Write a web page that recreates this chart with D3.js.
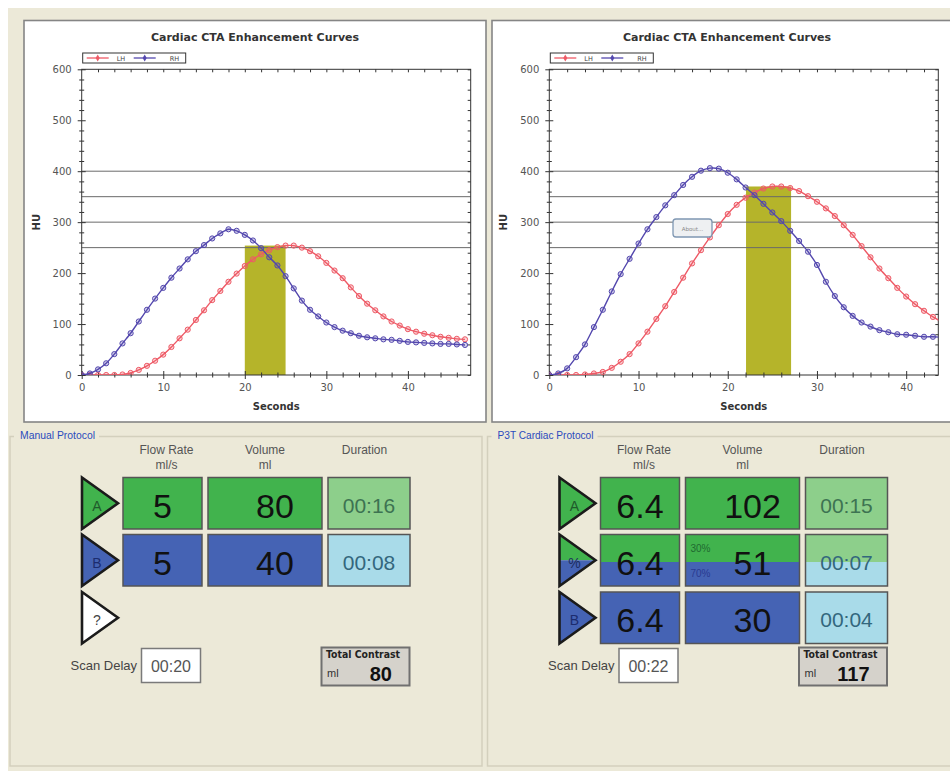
<!DOCTYPE html>
<html>
<head>
<meta charset="utf-8">
<script src="https://cdn.jsdelivr.net/npm/d3@7"></script>
<style>
  body { margin: 0; background: #fff; }
  svg { display: block; }
  text { font-family: "DejaVu Sans", Verdana, sans-serif; }
  .arial { font-family: "Liberation Sans", Arial, sans-serif; }
</style>
</head>
<body>
<div id="chart"></div>
<script>
// ---- chart values ----
const seconds = [0, 1, 2, 3, 4, 5, 6, 7, 8, 9, 10, 11, 12, 13, 14, 15, 16, 17, 18, 19, 20, 21, 22, 23,
  24, 25, 26, 27, 28, 29, 30, 31, 32, 33, 34, 35, 36, 37, 38, 39, 40, 41, 42, 43, 44, 45, 46, 47];

// manual protocol (left chart)
const manualLH = [0, 0, 0, 0, 0, 1, 4, 10, 18, 28, 40, 55, 72, 89, 108, 127, 147, 165, 183, 199, 214, 227, 237, 245,
  251, 254, 254, 250, 243, 233, 220, 205, 190, 172, 155, 140, 127, 115, 105, 97, 90, 85, 81, 78, 75, 73, 71, 70];
const manualRH = [0, 3, 11, 23, 41, 62, 82, 105, 128, 150, 171, 191, 209, 227, 243, 255, 268, 278, 286, 283, 275, 264, 249, 231,
  215, 194, 170, 146, 128, 115, 103, 94, 87, 82, 77, 74, 72, 70, 69, 67, 65, 64, 63, 62, 61, 61, 60, 59];

// P3T protocol (right chart)
const p3tLH = [0, 0, 0, 0, 1, 3, 6, 14, 26, 41, 62, 85, 110, 135, 163, 191, 219, 245, 270, 294, 316, 334, 348, 358,
  366, 370, 370, 367, 361, 351, 340, 327, 312, 294, 275, 253, 231, 209, 190, 171, 154, 139, 126, 114, 104];
const p3tRH = [0, 3, 13, 35, 60, 94, 128, 164, 198, 228, 258, 286, 310, 333, 353, 373, 389, 401, 406, 405, 397, 384, 368, 353,
  336, 319, 302, 283, 263, 242, 216, 183, 155, 133, 116, 103, 95, 88, 84, 80, 79, 77, 75, 75, 74];

const yTicks = [0, 100, 200, 300, 400, 500, 600];
const yMinor = [20, 40, 60, 80, 120, 140, 160, 180, 220, 240, 260, 280, 320, 340, 360, 380, 420, 440, 460, 480, 520, 540, 560, 580];
const xTicks = [0, 10, 20, 30, 40];
const xMinor = [2, 4, 6, 8, 12, 14, 16, 18, 22, 24, 26, 28, 32, 34, 36, 38, 42, 44, 46];
const thresholds = [250, 300, 350, 400];
const manualBand = [20, 25];
const p3tBand = [22.05, 27.1];

// ---- protocol panel values ----
const manualPhases = ["A", "B", "?"];
const manualFlow = ["5", "5"];
const manualVolume = ["80", "40"];
const manualDuration = ["00:16", "00:08"];
const manualScanDelay = "00:20";
const manualTotal = "80";

const p3tPhases = ["A", "%", "B"];
const p3tFlow = ["6.4", "6.4", "6.4"];
const p3tVolume = ["102", "51", "30"];
const p3tDuration = ["00:15", "00:07", "00:04"];
const p3tMix = ["30%", "70%"];
const p3tScanDelay = "00:22";
const p3tTotal = "117";

const RED = "#ee5a66";
const BLUE = "#5448ae";
const GREEN = "#41b34d";
const DKBLUE = "#4563b4";
const LTGREEN = "#8dcf8b";
const LTBLUE = "#a9dbe9";

const svg = d3.select("#chart").append("svg").attr("width", 950).attr("height", 771);

// window background
svg.append("rect").attr("x", 8).attr("y", 8).attr("width", 950).attr("height", 771).attr("fill", "#ece9d8");

function drawChart(opts) {
  const { panelX, panelW, plotLeft, xMax, lh, rh, band, about } = opts;
  const plotRight = plotLeft + 389;
  const top = 69.3, bottom = 375;

  // white panel
  svg.append("rect")
    .attr("x", panelX).attr("y", 20.5).attr("width", panelW).attr("height", 401.5)
    .attr("fill", "#fff").attr("stroke", "#858585").attr("stroke-width", 1.6);

  const g = svg.append("g");
  const clipId = "clip" + panelX;
  g.append("clipPath").attr("id", clipId).append("rect")
    .attr("x", plotLeft).attr("y", top).attr("width", plotRight - plotLeft).attr("height", bottom - top);

  const x = d3.scaleLinear().domain([0, xMax]).range([plotLeft, plotRight]);
  const y = d3.scaleLinear().domain([0, 600]).range([bottom, top]);

  // title
  g.append("text")
    .attr("x", panelX + panelW / 2).attr("y", 41)
    .attr("text-anchor", "middle").attr("font-size", 11).attr("font-weight", "bold").attr("fill", "#333")
    .text("Cardiac CTA Enhancement Curves");

  // band under the LH peak
  g.append("rect")
    .attr("clip-path", `url(#${clipId})`)
    .attr("x", x(band[0])).attr("width", x(band[1]) - x(band[0]))
    .attr("y", y(d3.max(lh))).attr("height", bottom - y(d3.max(lh)))
    .attr("fill", "#b5b42a");

  // threshold lines
  g.selectAll(".thr").data(thresholds).enter().append("line")
    .attr("x1", plotLeft).attr("x2", plotRight)
    .attr("y1", (d) => y(d)).attr("y2", (d) => y(d))
    .attr("stroke", "#6a6a6a").attr("stroke-width", 1);

  // frame
  g.append("rect")
    .attr("x", plotLeft).attr("y", top).attr("width", plotRight - plotLeft).attr("height", bottom - top)
    .attr("fill", "none").attr("stroke", "#333").attr("stroke-width", 1);

  // y axis: labels + ticks crossing the axis line
  g.append("g").attr("transform", `translate(${plotLeft},0)`)
    .call(d3.axisLeft(y).tickValues(yTicks).tickSize(4).tickPadding(6));
  g.append("g").attr("transform", `translate(${plotLeft},0)`)
    .call(d3.axisRight(y).tickValues(yTicks).tickSize(4).tickFormat(""));
  g.append("g").attr("transform", `translate(${plotLeft},0)`)
    .call(d3.axisLeft(y).tickValues(yMinor).tickSize(2.5).tickFormat(""));
  g.append("g").attr("transform", `translate(${plotLeft},0)`)
    .call(d3.axisRight(y).tickValues(yMinor).tickSize(2.5).tickFormat(""));
  // right edge ticks
  g.append("g").attr("transform", `translate(${plotRight},0)`)
    .call(d3.axisLeft(y).tickValues(yTicks.concat(yMinor)).tickSize(3).tickFormat(""));

  // x axis
  g.append("g").attr("transform", `translate(0,${bottom})`)
    .call(d3.axisBottom(x).tickValues(xTicks).tickSize(4).tickPadding(5));
  g.append("g").attr("transform", `translate(0,${bottom})`)
    .call(d3.axisTop(x).tickValues(xTicks).tickSize(4).tickFormat(""));
  g.append("g").attr("transform", `translate(0,${bottom})`)
    .call(d3.axisBottom(x).tickValues(xMinor.filter((d) => d < xMax)).tickSize(2.5).tickFormat(""));
  g.append("g").attr("transform", `translate(0,${bottom})`)
    .call(d3.axisTop(x).tickValues(xMinor.filter((d) => d < xMax)).tickSize(2.5).tickFormat(""));
  // top edge ticks
  g.append("g").attr("transform", `translate(0,${top})`)
    .call(d3.axisBottom(x).tickValues(xTicks.concat(xMinor).filter((d) => d > 0 && d < xMax)).tickSize(3).tickFormat(""));

  g.selectAll(".domain").remove();
  g.selectAll(".tick line").attr("stroke", "#333");
  g.selectAll(".tick text").attr("font-size", 10).attr("fill", "#555").attr("font-family", "DejaVu Sans, Verdana, sans-serif");

  // axis titles
  g.append("text")
    .attr("x", (plotLeft + plotRight) / 2).attr("y", 410)
    .attr("text-anchor", "middle").attr("font-size", 10).attr("font-weight", "bold").attr("fill", "#333")
    .text("Seconds");
  g.append("text")
    .attr("transform", `translate(${plotLeft - 42},${(top + bottom) / 2}) rotate(-90)`)
    .attr("text-anchor", "middle").attr("font-size", 10).attr("font-weight", "bold").attr("fill", "#333")
    .text("HU");

  // curves
  const series = [
    { name: "LH", values: lh, color: RED },
    { name: "RH", values: rh, color: BLUE },
  ];
  const line = d3.line()
    .x((d, i) => x(seconds[i]))
    .y((d) => y(d))
    .curve(d3.curveCardinal.tension(0.2));

  series.forEach((s) => {
    const sg = g.append("g").attr("clip-path", `url(#${clipId})`);
    sg.append("path")
      .attr("d", line(s.values))
      .attr("fill", "none").attr("stroke", s.color).attr("stroke-width", 1.4);
    sg.selectAll("circle").data(s.values).enter().append("circle")
      .attr("cx", (d, i) => x(seconds[i])).attr("cy", (d) => y(d)).attr("r", 2.6)
      .attr("fill", s.color).attr("fill-opacity", 0.25)
      .attr("stroke", s.color).attr("stroke-width", 1);
  });

  // legend
  const lg = g.append("g").attr("transform", `translate(${plotLeft + 1},53)`);
  lg.append("rect").attr("width", 103).attr("height", 10).attr("fill", "#fff").attr("stroke", "#333").attr("stroke-width", 1);
  series.forEach((s, i) => {
    const ox = 4 + i * 47;
    lg.append("line").attr("x1", ox).attr("x2", ox + 22).attr("y1", 5).attr("y2", 5)
      .attr("stroke", s.color).attr("stroke-width", 1.3);
    lg.append("path").attr("d", d3.symbol(d3.symbolDiamond, 14)()).attr("transform", `translate(${ox + 11},5)`)
      .attr("fill", s.color);
    lg.append("text").attr("x", ox + 30 + i * 6).attr("y", 7.5).attr("font-size", 6.5).attr("fill", "#444").text(s.name);
  });

  if (about) {
    g.append("rect").attr("x", about[0]).attr("y", about[1]).attr("width", 39).attr("height", 18).attr("rx", 3)
      .attr("fill", "#eef0f2").attr("stroke", "#7f97b2").attr("stroke-width", 1.3);
    g.append("text").attr("x", about[0] + 19.5).attr("y", about[1] + 11.5).attr("text-anchor", "middle")
      .attr("font-size", 5.5).attr("fill", "#8a8a8a").text("About...");
  }
}

drawChart({ panelX: 24, panelW: 462, plotLeft: 81.7, xMax: 47.7, lh: manualLH, rh: manualRH, band: manualBand });
drawChart({ panelX: 492, panelW: 470, plotLeft: 549.3, xMax: 43.6, lh: p3tLH, rh: p3tRH, band: p3tBand, about: [673, 219] });

// ---- protocol panels ----
function drawProtocol(opts) {
  const { ox, title, titleW, phases, flow, volume, duration, mix, scanDelay, total } = opts;
  const g = svg.append("g").attr("transform", `translate(${ox},0)`);

  // group box
  g.append("path")
    .attr("d", `M${titleW + 16},436.5 H474 V766 H2 V436.5 H6`)
    .attr("fill", "none").attr("stroke", "#d3d0bd").attr("stroke-width", 1.5);
  g.append("text").attr("class", "arial").attr("x", 12).attr("y", 438.5).attr("font-size", 10)
    .attr("textLength", titleW).attr("lengthAdjust", "spacingAndGlyphs")
    .attr("fill", "#2b4bbd").text(title);

  // column headers
  const cols = [
    { x: 158.5, l1: "Flow Rate", l2: "ml/s" },
    { x: 257, l1: "Volume", l2: "ml" },
    { x: 356.5, l1: "Duration", l2: "" },
  ];
  cols.forEach((c) => {
    g.append("text").attr("class", "arial").attr("x", c.x).attr("y", 454).attr("text-anchor", "middle")
      .attr("font-size", 12).attr("fill", "#555").text(c.l1);
    g.append("text").attr("class", "arial").attr("x", c.x).attr("y", 469).attr("text-anchor", "middle")
      .attr("font-size", 12).attr("fill", "#555").text(c.l2);
  });

  const rowTop = [477.5, 534.5, 592];
  const rowH = 51.5;

  phases.forEach((p, i) => {
    const t = rowTop[i];
    const isMix = p === "%";
    const kind = p === "A" ? "A" : p === "B" ? "B" : isMix ? "M" : "?";
    const tri = `M74,${t} L110,${t + rowH / 2} L74,${t + rowH} Z`;

    if (kind === "M") {
      g.append("path").attr("d", `M74,${t} L110,${t + rowH / 2} L74,${t + rowH / 2} Z`).attr("fill", GREEN);
      g.append("path").attr("d", `M74,${t + rowH / 2} L110,${t + rowH / 2} L74,${t + rowH} Z`).attr("fill", DKBLUE);
      g.append("path").attr("d", tri).attr("fill", "none").attr("stroke", "#1b1b1b").attr("stroke-width", 2.6);
    } else {
      g.append("path").attr("d", tri)
        .attr("fill", kind === "A" ? GREEN : kind === "B" ? DKBLUE : "#fff")
        .attr("stroke", "#1b1b1b").attr("stroke-width", 2.6).attr("stroke-linejoin", "miter");
    }
    g.append("text").attr("class", "arial").attr("x", 89).attr("y", t + 33).attr("text-anchor", "middle")
      .attr("font-size", 14)
      .attr("fill", kind === "A" ? "#1f5a2b" : kind === "B" ? "#1c2c6e" : kind === "M" ? "#1c2c5e" : "#444")
      .text(p);

    if (kind === "?") return;

    // three boxes
    const boxes = [
      { x: 115, w: 79, bg: kind === "A" ? GREEN : DKBLUE, bg2: DKBLUE },
      { x: 200, w: 114, bg: kind === "A" ? GREEN : DKBLUE, bg2: DKBLUE },
      { x: 320, w: 82, bg: kind === "A" ? LTGREEN : LTBLUE, bg2: LTBLUE },
    ];
    boxes.forEach((b, j) => {
      if (kind === "M") {
        const top = j === 2 ? LTGREEN : GREEN;
        g.append("rect").attr("x", b.x).attr("y", t).attr("width", b.w).attr("height", 27.5).attr("fill", top);
        g.append("rect").attr("x", b.x).attr("y", t + 27.5).attr("width", b.w).attr("height", rowH - 27.5).attr("fill", b.bg2);
        g.append("rect").attr("x", b.x).attr("y", t).attr("width", b.w).attr("height", rowH)
          .attr("fill", "none").attr("stroke", "#555").attr("stroke-width", 1.5);
      } else {
        g.append("rect").attr("x", b.x).attr("y", t).attr("width", b.w).attr("height", rowH)
          .attr("fill", b.bg).attr("stroke", "#555").attr("stroke-width", 1.5);
      }
    });

    g.append("text").attr("class", "arial").attr("x", 154.5).attr("y", t + 40).attr("text-anchor", "middle")
      .attr("font-size", 34).attr("fill", "#111").text(flow[i]);
    g.append("text").attr("class", "arial").attr("x", 267).attr("y", t + 40).attr("text-anchor", "middle")
      .attr("font-size", 34).attr("fill", "#111").text(volume[i]);
    g.append("text").attr("class", "arial").attr("x", 361).attr("y", t + 35).attr("text-anchor", "middle")
      .attr("font-size", 21).attr("fill", kind === "A" ? "#3d7352" : "#33677d").text(duration[i]);

    if (kind === "M" && mix) {
      g.append("text").attr("class", "arial").attr("x", 205).attr("y", t + 17).attr("font-size", 10)
        .attr("fill", "#1f6a30").text(mix[0]);
      g.append("text").attr("class", "arial").attr("x", 205).attr("y", t + 42).attr("font-size", 10)
        .attr("fill", "#2a3a90").text(mix[1]);
    }
  });

  // scan delay
  g.append("text").attr("class", "arial").attr("x", 129).attr("y", 670).attr("text-anchor", "end")
    .attr("font-size", 13).attr("fill", "#444").text("Scan Delay");
  g.append("rect").attr("x", 133.5).attr("y", 648.5).attr("width", 59).attr("height", 34)
    .attr("fill", "#fff").attr("stroke", "#7a7a7a").attr("stroke-width", 1.5);
  g.append("text").attr("class", "arial").attr("x", 163).attr("y", 671.5).attr("text-anchor", "middle")
    .attr("font-size", 16).attr("fill", "#555").text(scanDelay);

  // total contrast
  const tx = 321;
  g.append("rect").attr("x", tx - 7.5).attr("y", 647.5).attr("width", 88).attr("height", 38)
    .attr("fill", "#d5d2cb").attr("stroke", "#707070").attr("stroke-width", 2);
  g.append("text").attr("x", tx - 3).attr("y", 658).attr("font-size", 10).attr("font-weight", "bold")
    .attr("textLength", 74).attr("lengthAdjust", "spacingAndGlyphs")
    .attr("font-family", "'Liberation Sans', Arial, sans-serif")
    .attr("fill", "#222").text("Total Contrast");
  g.append("text").attr("class", "arial").attr("x", tx - 2).attr("y", 677).attr("font-size", 11)
    .attr("fill", "#333").text("ml");
  g.append("text").attr("class", "arial").attr("x", tx + 63).attr("y", 681).attr("text-anchor", "end")
    .attr("font-size", 20).attr("font-weight", "bold").attr("fill", "#111").text(total);
}

drawProtocol({
  ox: 8, title: "Manual Protocol", titleW: 75, phases: manualPhases, flow: manualFlow, volume: manualVolume,
  duration: manualDuration, scanDelay: manualScanDelay, total: manualTotal,
});
drawProtocol({
  ox: 485.5, title: "P3T Cardiac Protocol", titleW: 96, phases: p3tPhases, flow: p3tFlow, volume: p3tVolume,
  duration: p3tDuration, mix: p3tMix, scanDelay: p3tScanDelay, total: p3tTotal,
});
</script>
</body>
</html>
